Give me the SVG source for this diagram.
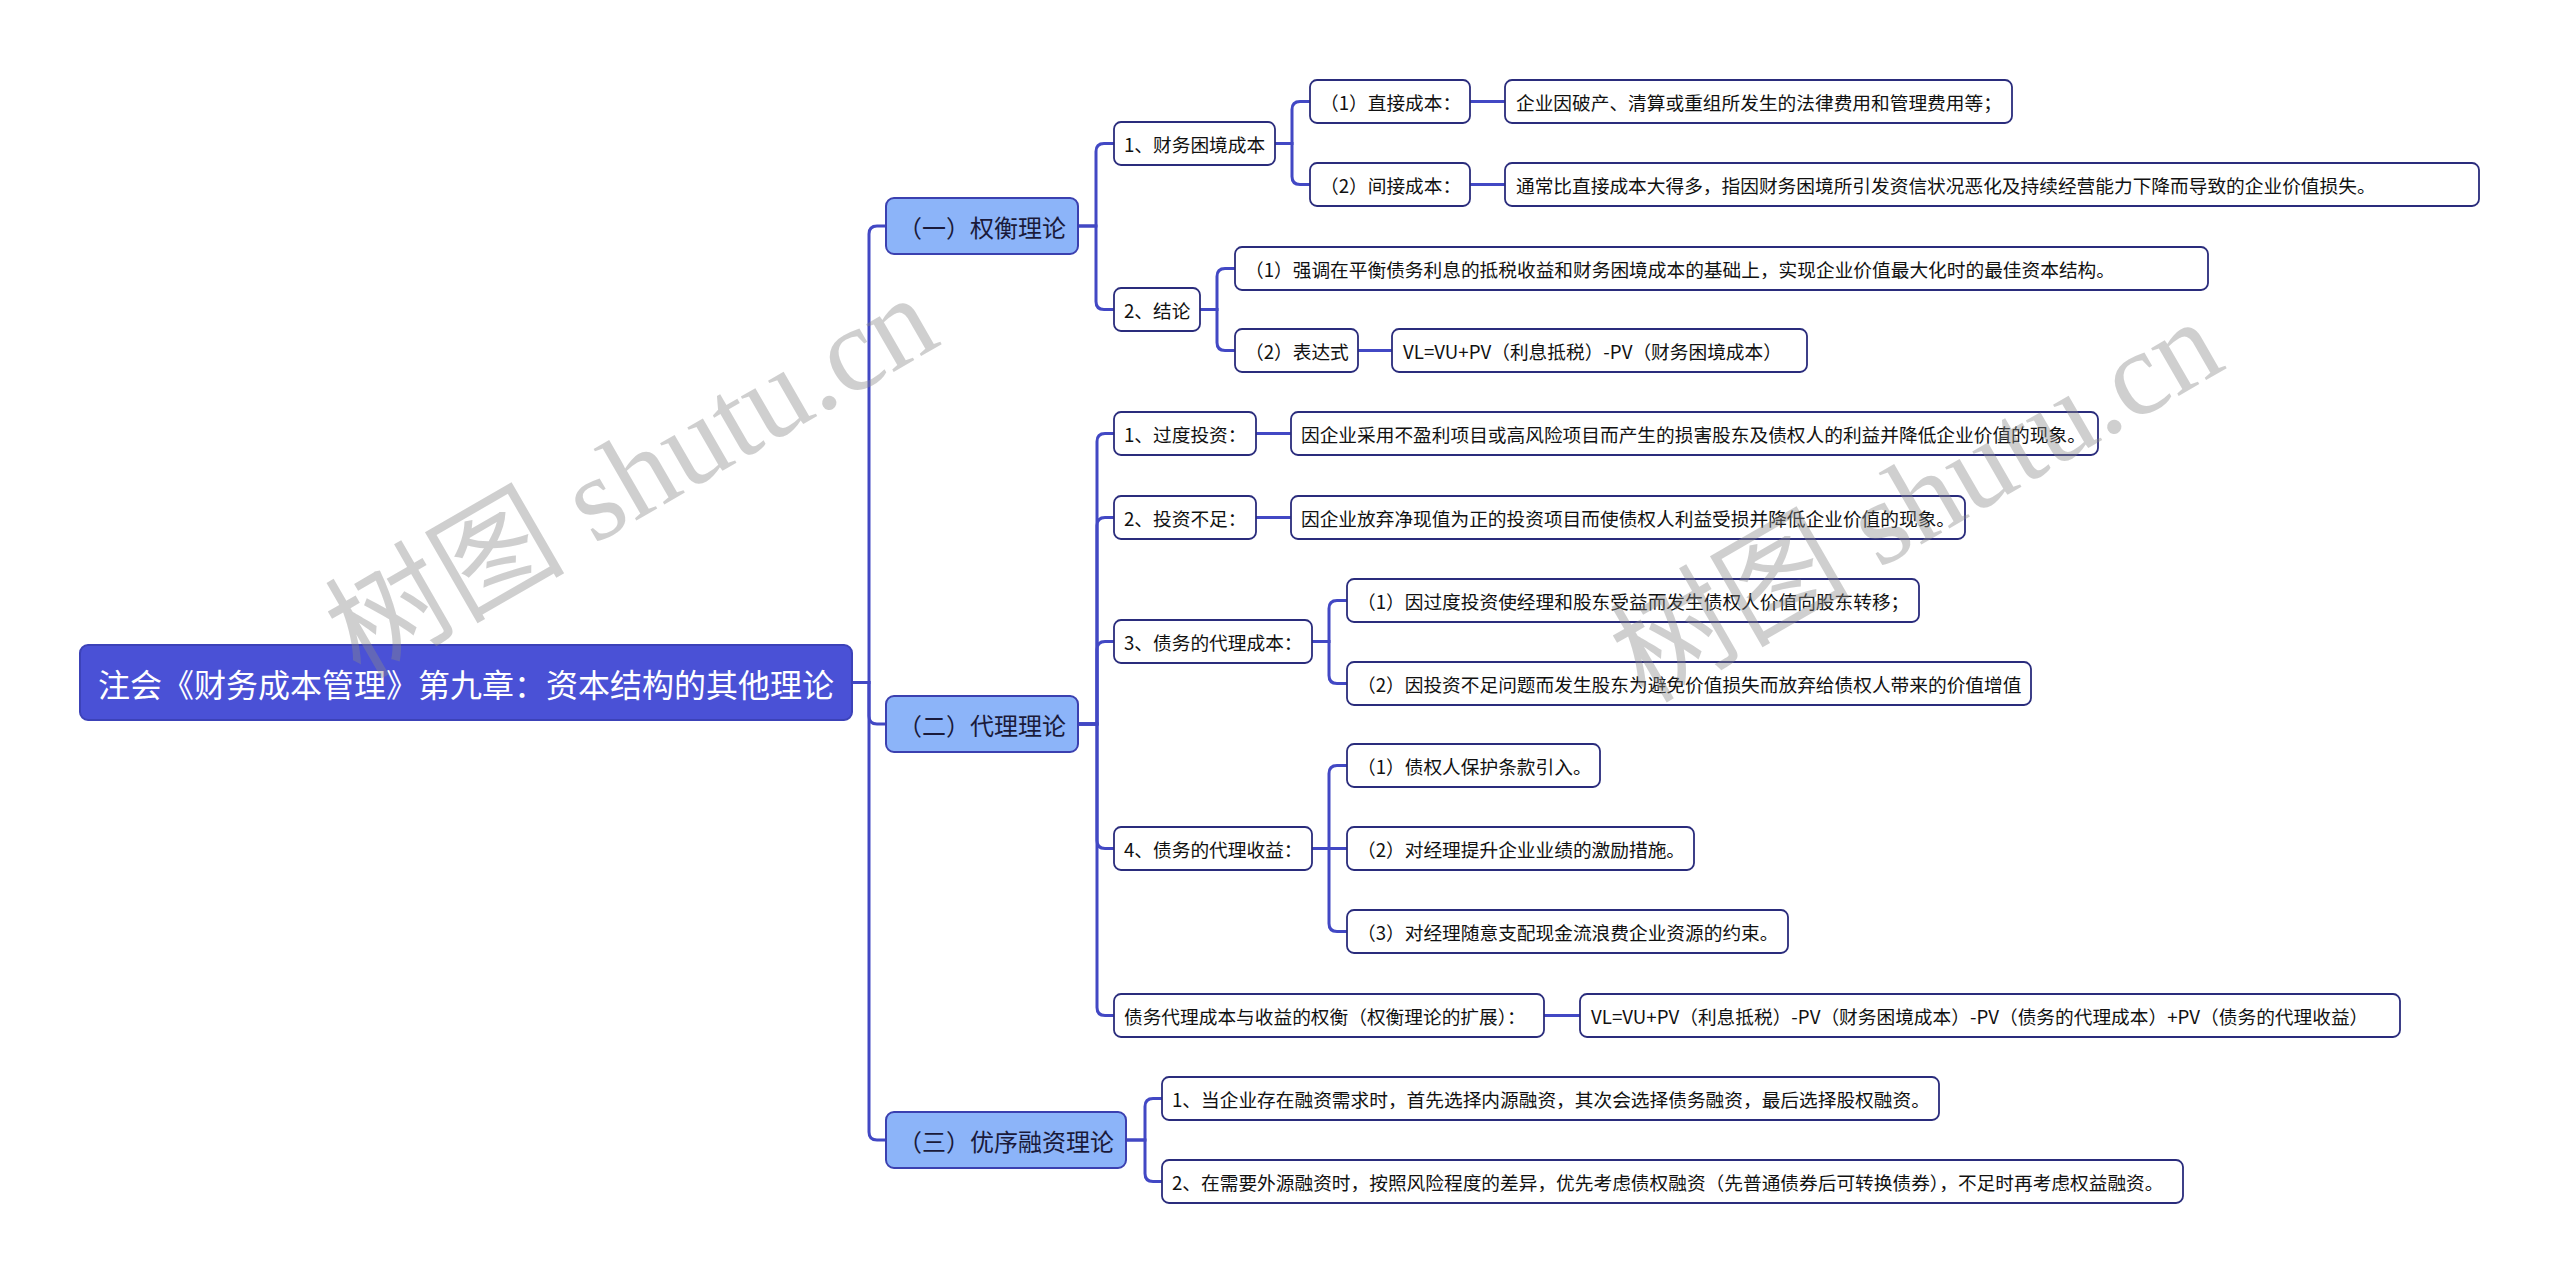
<svg xmlns="http://www.w3.org/2000/svg" width="2560" height="1283" viewBox="0 0 2560 1283">
<style>
text{font-family:"Noto Sans CJK SC","Noto Sans",sans-serif;dominant-baseline:central;text-anchor:middle}
.root rect{fill:#4a51d6;stroke:#3c42b8;stroke-width:2}
.root text{fill:#fff;font-size:32px}
.l1 rect{fill:#8cb4f9;stroke:#3b40b0;stroke-width:2}
.l1 text{fill:#1a1a3a;font-size:24px}
.n rect{fill:#fff;stroke:#2a2c7c;stroke-width:1.8}
.n text{fill:#111;font-size:18.7px;text-anchor:start}
#connectors path{fill:none;stroke:#4248c4;stroke-width:3}
.wm{font-family:"Liberation Serif","Noto Sans CJK SC",serif;font-size:120px;fill:#8a8a8a;opacity:0.4;text-anchor:start;dominant-baseline:alphabetic}
</style>
<rect width="2560" height="1283" fill="#fff"/>
<g id="connectors">
<path d="M852 682.5 H869 V234 Q869 226 877 226 H886"/>
<path d="M852 682.5 H869 V716 Q869 724 877 724 H886"/>
<path d="M852 682.5 H869 V1132 Q869 1140 877 1140 H886"/>
<path d="M1078 226 H1096 V151.5 Q1096 143.5 1104 143.5 H1114"/>
<path d="M1078 226 H1096 V301.5 Q1096 309.5 1104 309.5 H1114"/>
<path d="M1275 143.5 H1292 V109.5 Q1292 101.5 1300 101.5 H1310"/>
<path d="M1275 143.5 H1292 V176.5 Q1292 184.5 1300 184.5 H1310"/>
<path d="M1470 101.5 H1505"/>
<path d="M1470 184.5 H1505"/>
<path d="M1200 309.5 H1217 V276.5 Q1217 268.5 1225 268.5 H1235"/>
<path d="M1200 309.5 H1217 V342.5 Q1217 350.5 1225 350.5 H1235"/>
<path d="M1358 350.5 H1392"/>
<path d="M1078 724 H1097 V441.5 Q1097 433.5 1105 433.5 H1114"/>
<path d="M1078 724 H1097 V525.5 Q1097 517.5 1105 517.5 H1114"/>
<path d="M1078 724 H1097 V649.5 Q1097 641.5 1105 641.5 H1114"/>
<path d="M1078 724 H1097 V840.5 Q1097 848.5 1105 848.5 H1114"/>
<path d="M1078 724 H1097 V1007.5 Q1097 1015.5 1105 1015.5 H1114"/>
<path d="M1256 433.5 H1291"/>
<path d="M1256 517.5 H1291"/>
<path d="M1312 641.5 H1329 V608.5 Q1329 600.5 1337 600.5 H1347"/>
<path d="M1312 641.5 H1329 V675.5 Q1329 683.5 1337 683.5 H1347"/>
<path d="M1312 848.5 H1329 V773.5 Q1329 765.5 1337 765.5 H1347"/>
<path d="M1312 848.5 H1347"/>
<path d="M1312 848.5 H1329 V923.5 Q1329 931.5 1337 931.5 H1347"/>
<path d="M1544 1015.5 H1580"/>
<path d="M1126 1140 H1145 V1106.5 Q1145 1098.5 1153 1098.5 H1162"/>
<path d="M1126 1140 H1145 V1173.5 Q1145 1181.5 1153 1181.5 H1162"/>
</g>
<g id="root" class="root"><rect x="80" y="645" width="772" height="75" rx="8"/><text x="466" y="682.5">注会《财务成本管理》第九章：资本结构的其他理论</text></g>
<g id="l1-1" class="l1"><rect x="886" y="198" width="192" height="56" rx="8"/><text x="982" y="226">（一）权衡理论</text></g>
<g id="l1-2" class="l1"><rect x="886" y="696" width="192" height="56" rx="8"/><text x="982" y="724">（二）代理理论</text></g>
<g id="l1-3" class="l1"><rect x="886" y="1112" width="240" height="56" rx="8"/><text x="1006" y="1140">（三）优序融资理论</text></g>
<g id="a1" class="n"><rect x="1114" y="122" width="161" height="43" rx="7"/><text x="1124" y="143.5">1、财务困境成本</text></g>
<g id="a11" class="n"><rect x="1310" y="80" width="160" height="43" rx="7"/><text x="1320" y="101.5">（1）直接成本：</text></g>
<g id="a11d" class="n"><rect x="1505" y="80" width="507" height="43" rx="7"/><text x="1516" y="101.5">企业因破产、清算或重组所发生的法律费用和管理费用等；</text></g>
<g id="a12" class="n"><rect x="1310" y="163" width="160" height="43" rx="7"/><text x="1320" y="184.5">（2）间接成本：</text></g>
<g id="a12d" class="n"><rect x="1505" y="163" width="974" height="43" rx="7"/><text x="1516" y="184.5">通常比直接成本大得多，指因财务困境所引发资信状况恶化及持续经营能力下降而导致的企业价值损失。</text></g>
<g id="a2" class="n"><rect x="1114" y="288" width="86" height="43" rx="7"/><text x="1124" y="309.5">2、结论</text></g>
<g id="a21" class="n"><rect x="1235" y="247" width="973" height="43" rx="7"/><text x="1245" y="268.5">（1）强调在平衡债务利息的抵税收益和财务困境成本的基础上，实现企业价值最大化时的最佳资本结构。</text></g>
<g id="a22" class="n"><rect x="1235" y="329" width="123" height="43" rx="7"/><text x="1245" y="350.5">（2）表达式</text></g>
<g id="a22d" class="n"><rect x="1392" y="329" width="415" height="43" rx="7"/><text x="1403" y="350.5">VL=VU+PV（利息抵税）-PV（财务困境成本）</text></g>
<g id="b1" class="n"><rect x="1114" y="412" width="142" height="43" rx="7"/><text x="1124" y="433.5">1、过度投资：</text></g>
<g id="b1d" class="n"><rect x="1291" y="412" width="807" height="43" rx="7"/><text x="1301" y="433.5">因企业采用不盈利项目或高风险项目而产生的损害股东及债权人的利益并降低企业价值的现象。</text></g>
<g id="b2" class="n"><rect x="1114" y="496" width="142" height="43" rx="7"/><text x="1124" y="517.5">2、投资不足：</text></g>
<g id="b2d" class="n"><rect x="1291" y="496" width="674" height="43" rx="7"/><text x="1301" y="517.5">因企业放弃净现值为正的投资项目而使债权人利益受损并降低企业价值的现象。</text></g>
<g id="b3" class="n"><rect x="1114" y="620" width="198" height="43" rx="7"/><text x="1124" y="641.5">3、债务的代理成本：</text></g>
<g id="b31" class="n"><rect x="1347" y="579" width="572" height="43" rx="7"/><text x="1357" y="600.5">（1）因过度投资使经理和股东受益而发生债权人价值向股东转移；</text></g>
<g id="b32" class="n"><rect x="1347" y="662" width="684" height="43" rx="7"/><text x="1357" y="683.5">（2）因投资不足问题而发生股东为避免价值损失而放弃给债权人带来的价值增值</text></g>
<g id="b4" class="n"><rect x="1114" y="827" width="198" height="43" rx="7"/><text x="1124" y="848.5">4、债务的代理收益：</text></g>
<g id="b41" class="n"><rect x="1347" y="744" width="253" height="43" rx="7"/><text x="1357" y="765.5">（1）债权人保护条款引入。</text></g>
<g id="b42" class="n"><rect x="1347" y="827" width="347" height="43" rx="7"/><text x="1357" y="848.5">（2）对经理提升企业业绩的激励措施。</text></g>
<g id="b43" class="n"><rect x="1347" y="910" width="441" height="43" rx="7"/><text x="1357" y="931.5">（3）对经理随意支配现金流浪费企业资源的约束。</text></g>
<g id="b5" class="n"><rect x="1114" y="994" width="430" height="43" rx="7"/><text x="1124" y="1015.5">债务代理成本与收益的权衡（权衡理论的扩展）：</text></g>
<g id="b5d" class="n"><rect x="1580" y="994" width="820" height="43" rx="7"/><text x="1591" y="1015.5">VL=VU+PV（利息抵税）-PV（财务困境成本）-PV（债务的代理成本）+PV（债务的代理收益）</text></g>
<g id="c1" class="n"><rect x="1162" y="1077" width="777" height="43" rx="7"/><text x="1172" y="1098.5">1、当企业存在融资需求时，首先选择内源融资，其次会选择债务融资，最后选择股权融资。</text></g>
<g id="c2" class="n"><rect x="1162" y="1160" width="1021" height="43" rx="7"/><text x="1172" y="1181.5">2、在需要外源融资时，按照风险程度的差异，优先考虑债权融资（先普通债券后可转换债券），不足时再考虑权益融资。</text></g>
<g id="watermark">
<text class="wm" transform="translate(360,680) rotate(-30)">树图 shutu.cn</text>
<text class="wm" transform="translate(1645,704) rotate(-30)">树图 shutu.cn</text>
</g>
</svg>
